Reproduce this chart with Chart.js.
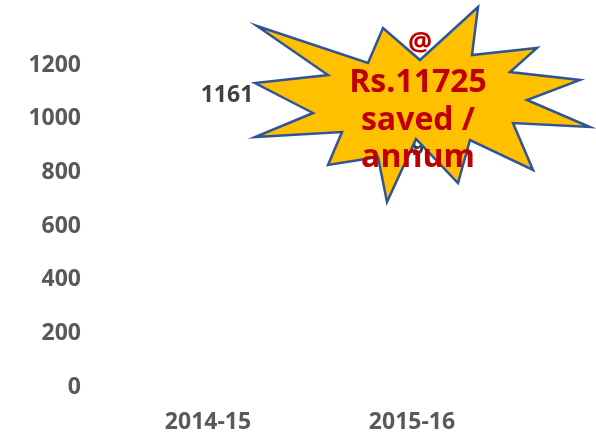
<!DOCTYPE html>
<html>
<head>
<meta charset="utf-8">
<script src="https://cdn.jsdelivr.net/npm/chart.js@4/dist/chart.umd.min.js"></script>
<style>
    html, body { margin: 0; padding: 0; background: #ffffff; }
    #wrap { width: 596px; height: 434px; }
</style>
</head>
<body>
<div id="wrap"><canvas id="savingChart"></canvas></div>
<script>
// yearly figures
const years = ["2014-15", "2015-16"];
const units = [1161, 964];
const yTicks = [0, 200, 400, 600, 800, 1000, 1200];

// callout text
const calloutLines = ["@", "Rs.11725", "saved /", "annum"];

const AXIS_FONT = { family: "'Open Sans'", size: 23, weight: "bold" };

// value labels just inside the top of each bar
const valueLabels = {
    id: "valueLabels",
    afterDatasetsDraw(chart) {
        const ctx = chart.ctx;
        const meta = chart.getDatasetMeta(0);
        ctx.save();
        ctx.font = "bold 23px 'Open Sans'";
        ctx.fillStyle = "#404040";
        ctx.textAlign = "center";
        ctx.textBaseline = "middle";
        meta.data.forEach((bar, i) => {
            ctx.fillText(units[i], bar.x + 19, bar.y + 20);
        });
        ctx.restore();
    }
};

// yellow starburst with the savings note on top
const starburst = {
    id: "starburst",
    afterDraw(chart) {
        const ctx = chart.ctx;
        const pts = [
            [257, 26], [368, 63], [383, 28], [420, 60], [478, 7], [472, 55],
            [537, 48], [510, 72], [580, 80], [527, 100], [590, 127], [513, 123],
            [533, 170], [470, 140], [458, 183], [416, 139], [387, 202], [378, 157],
            [328, 165], [342, 132], [255, 137], [313, 113], [255, 83], [328, 75]
        ];
        ctx.save();
        ctx.beginPath();
        pts.forEach(([x, y], i) => i ? ctx.lineTo(x, y) : ctx.moveTo(x, y));
        ctx.closePath();
        ctx.fillStyle = "#FFC000";
        ctx.fill();
        ctx.lineWidth = 2.5;
        ctx.lineJoin = "miter";
        ctx.strokeStyle = "#2F5597";
        ctx.stroke();

        ctx.fillStyle = "#C00000";
        ctx.textAlign = "center";
        ctx.textBaseline = "alphabetic";
        ctx.font = "bold 27px 'Open Sans'";
        ctx.fillText(calloutLines[0], 420, 51);
        ctx.font = "bold 32px 'Open Sans'";
        ctx.fillText(calloutLines[1], 418, 92);
        ctx.fillText(calloutLines[2], 418, 130);
        ctx.fillText(calloutLines[3], 418, 167);
        ctx.restore();
    }
};

const ctx = document.getElementById("savingChart").getContext("2d");
new Chart(ctx, {
    type: "bar",
    data: {
        labels: years,
        datasets: [{
            data: units,
            backgroundColor: "rgba(255,255,255,0)",
            borderWidth: 0
        }]
    },
    options: {
        responsive: true,
        maintainAspectRatio: false,
        animation: false,
        layout: { padding: { top: 65, right: 82, bottom: 0, left: 0 } },
        plugins: {
            legend: { display: false },
            tooltip: { enabled: false }
        },
        scales: {
            x: {
                grid: { display: false, drawTicks: false },
                border: { display: false },
                ticks: { color: "#595959", font: AXIS_FONT, padding: 22 },
                afterFit(scale) { scale.height = 47; }
            },
            y: {
                min: 0,
                max: 1200,
                afterBuildTicks(scale) {
                    scale.ticks = yTicks.map(v => ({ value: v }));
                },
                grid: { display: false, drawTicks: false },
                border: { display: false },
                ticks: {
                    color: "#595959",
                    font: AXIS_FONT,
                    padding: 25,
                    callback: v => String(v)
                },
                afterFit(scale) { scale.width = 106; }
            }
        }
    },
    plugins: [valueLabels, starburst]
});
</script>
</body>
</html>
